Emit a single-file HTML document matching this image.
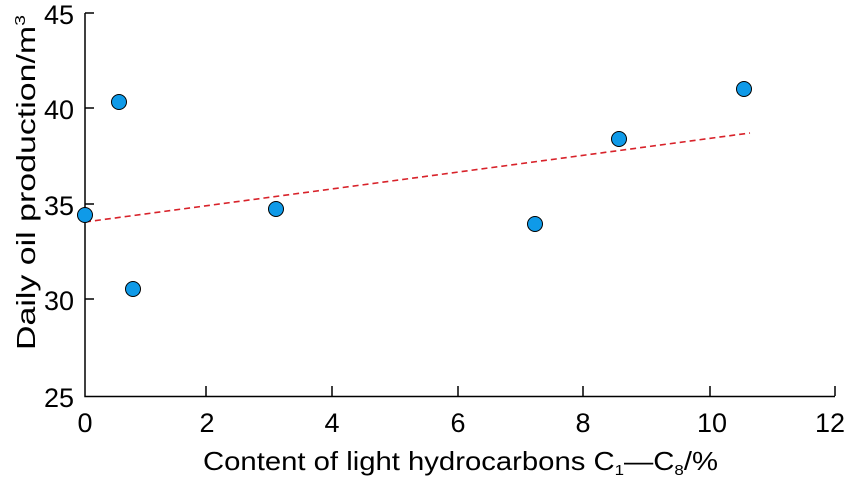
<!DOCTYPE html>
<html><head><meta charset="utf-8"><style>body{margin:0;background:#fff}svg{display:block}</style></head><body>
<svg width="850" height="481" xmlns="http://www.w3.org/2000/svg" font-family="Liberation Sans, Arial, sans-serif">
<g stroke="#000" stroke-width="1.5" fill="none">
<path d="M85,13 V396.5 H835"/>
<path d="M85,13 h9 M85,108 h9 M85,204 h9 M85,299 h9"/>
<path d="M206,396 v-10 M332,396 v-10 M458,396 v-10 M583,396 v-10 M710,396 v-10 M835,396 v-10"/>
</g>
<g font-size="27" fill="#000" text-anchor="end">
<text x="74" y="24">45</text><text x="74" y="119">40</text><text x="74" y="215">35</text><text x="74" y="310">30</text><text x="74" y="407">25</text>
</g>
<g font-size="27" fill="#000" text-anchor="middle">
<text x="85" y="432">0</text><text x="207" y="432">2</text><text x="332" y="432">4</text><text x="458" y="432">6</text><text x="583" y="432">8</text><text x="712" y="432">10</text><text x="830" y="432">12</text>
</g>
<text x="203" y="470" font-size="26" fill="#000" textLength="515" lengthAdjust="spacingAndGlyphs">Content of light hydrocarbons C<tspan font-size="15" dy="5">1</tspan><tspan dy="-5">—C</tspan><tspan font-size="15" dy="5">8</tspan><tspan dy="-5">/%</tspan></text>
<text transform="translate(35,350) rotate(-90)" font-size="26" fill="#000" textLength="335" lengthAdjust="spacingAndGlyphs">Daily oil production/m<tspan font-size="15" dy="-10">3</tspan></text>
<line x1="85" y1="222" x2="750" y2="133" stroke="#d8222a" stroke-width="1.6" stroke-dasharray="6,4"/>
<g fill="#0f9ae8" stroke="#000" stroke-width="1">
<circle cx="119" cy="102" r="7.5"/><circle cx="133" cy="289" r="7.5"/><circle cx="85" cy="215" r="7.5"/><circle cx="276" cy="209" r="7.5"/><circle cx="535" cy="224" r="7.5"/><circle cx="619" cy="139" r="7.5"/><circle cx="744" cy="89" r="7.5"/>
</g>
</svg>
</body></html>
